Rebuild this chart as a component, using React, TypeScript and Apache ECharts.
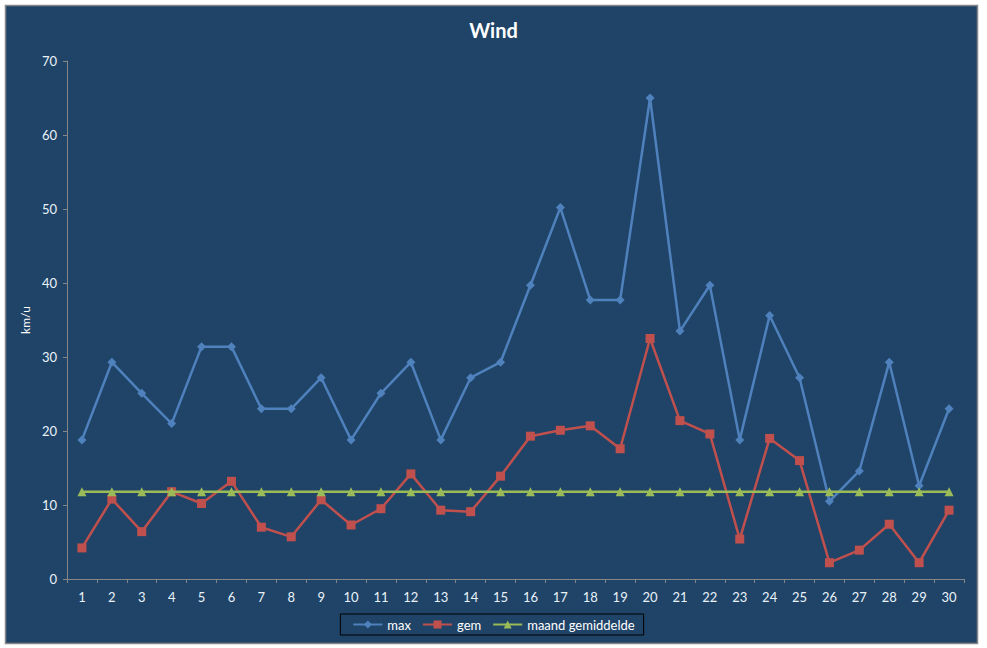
import { useEffect, useRef } from 'react';
import * as echarts from 'echarts';

const days = Array.from({ length: 30 }, (_, i) => String(i + 1));

const maxWind = [
  18.8, 29.3, 25.1, 21.0, 31.4, 31.4, 23.0, 23.0, 27.2, 18.8,
  25.1, 29.3, 18.8, 27.2, 29.3, 39.7, 50.2, 37.7, 37.7, 65.0,
  33.5, 39.7, 18.8, 35.6, 27.2, 10.5, 14.6, 29.3, 12.6, 23.0,
];

const gemWind = [
  4.2, 10.8, 6.4, 11.8, 10.2, 13.2, 7.0, 5.7, 10.7, 7.3,
  9.5, 14.2, 9.3, 9.1, 13.9, 19.3, 20.1, 20.7, 17.6, 32.5,
  21.4, 19.6, 5.4, 19.0, 16.0, 2.2, 3.9, 7.4, 2.2, 9.3,
];

const maandGem = [
  11.8, 11.8, 11.8, 11.8, 11.8, 11.8, 11.8, 11.8, 11.8, 11.8,
  11.8, 11.8, 11.8, 11.8, 11.8, 11.8, 11.8, 11.8, 11.8, 11.8,
  11.8, 11.8, 11.8, 11.8, 11.8, 11.8, 11.8, 11.8, 11.8, 11.8,
];

const font = 'Lato, "Open Sans", sans-serif';

export default function App() {
  const chartRef = useRef<HTMLDivElement>(null);

  useEffect(() => {
    document.body.style.margin = '0';
    if (!chartRef.current) return;
    const chart = echarts.init(chartRef.current, null, { renderer: 'svg' });

    const option: echarts.EChartsOption = {
      animation: false,
      backgroundColor: '#ffffff',
      textStyle: { fontFamily: font },
      graphic: [
        {
          type: 'rect',
          z: 0,
          silent: true,
          shape: { x: 5.5, y: 5.5, width: 972, height: 638 },
          style: { fill: '#1F4467', stroke: '#868686', lineWidth: 1.5 },
        },
      ],
      title: {
        text: 'Wind',
        left: 'center',
        top: 15,
        textStyle: { color: '#ffffff', fontSize: 20, fontWeight: 'bold', fontFamily: font },
      },
      legend: {
        bottom: 13,
        left: 'center',
        itemWidth: 29,
        itemHeight: 10,
        itemGap: 11,
        padding: [4, 9, 4, 12],
        borderColor: '#000000',
        borderWidth: 1,
        textStyle: { color: '#ffffff', fontSize: 13, fontFamily: font },
        data: ['max', 'gem', 'maand gemiddelde'],
      },
      grid: { left: 67, right: 23, top: 61, bottom: 69 },
      xAxis: {
        type: 'category',
        data: days,
        boundaryGap: true,
        axisLine: { lineStyle: { color: '#868686', width: 1 } },
        axisTick: { show: true, length: 4, lineStyle: { color: '#868686' } },
        axisLabel: { color: '#EAF2FA', fontSize: 13, margin: 11, interval: 0 },
        splitLine: { show: false },
      },
      yAxis: {
        type: 'value',
        min: 0,
        max: 70,
        interval: 10,
        name: 'km/u',
        nameLocation: 'middle',
        nameRotate: 90,
        nameGap: 33,
        nameTextStyle: { color: '#ffffff', fontSize: 12 },
        axisLine: { show: true, lineStyle: { color: '#868686', width: 1 } },
        axisTick: { show: true, length: 4, lineStyle: { color: '#868686' } },
        axisLabel: { color: '#EAF2FA', fontSize: 13, margin: 10 },
        splitLine: { show: false },
      },
      series: [
        {
          name: 'max',
          type: 'line',
          data: maxWind,
          symbol: 'diamond',
          symbolSize: 9,
          color: '#4F81BD',
          lineStyle: { width: 2.5, color: '#4F81BD' },
          itemStyle: { color: '#4F81BD' },
          z: 3,
        },
        {
          name: 'gem',
          type: 'line',
          data: gemWind,
          symbol: 'rect',
          symbolSize: 9,
          color: '#C0504D',
          lineStyle: { width: 2.5, color: '#C0504D' },
          itemStyle: { color: '#C0504D' },
          z: 4,
        },
        {
          name: 'maand gemiddelde',
          type: 'line',
          data: maandGem,
          symbol: 'triangle',
          symbolSize: 9,
          color: '#9BBB59',
          lineStyle: { width: 2.5, color: '#9BBB59' },
          itemStyle: { color: '#9BBB59' },
          z: 5,
        },
      ],
    };

    chart.setOption(option);
    return () => {
      chart.dispose();
    };
  }, []);

  return <div ref={chartRef} style={{ width: '987px', height: '648px' }} />;
}
